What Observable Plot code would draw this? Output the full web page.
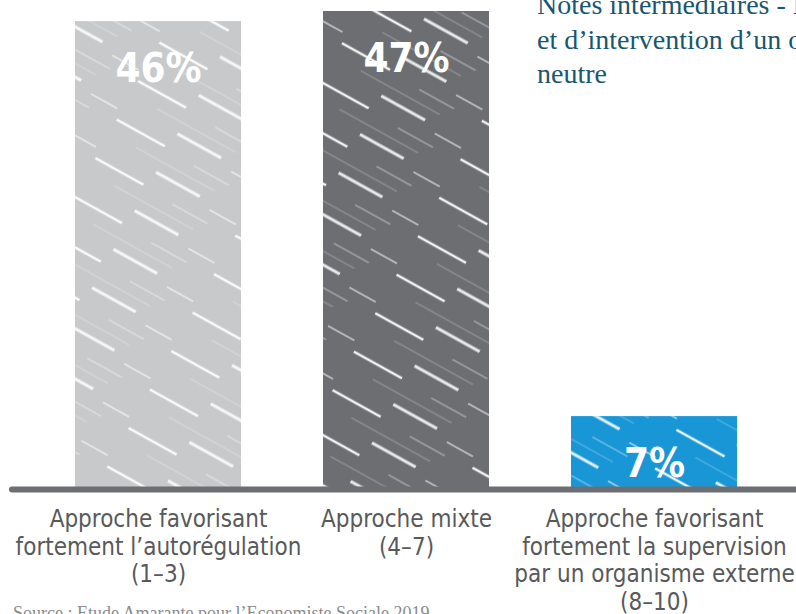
<!DOCTYPE html>
<html>
<head>
<meta charset="utf-8">
<script src="https://cdn.jsdelivr.net/npm/d3@7"></script>
<script src="https://cdn.jsdelivr.net/npm/@observablehq/plot@0.6"></script>
<style>
  html, body { margin: 0; padding: 0; background: #fff; }
  #wrap { position: relative; width: 796px; height: 614px; overflow: hidden; background: #fff; }
  #chart { position: absolute; left: 0; top: 0; }
  #title { position: absolute; left: 537px; top: -12px; white-space: nowrap;
    font-family: "Liberation Serif", "DejaVu Serif", serif; font-size: 28px; line-height: 34.5px; color: #1a5670; }
  #caption { position: absolute; left: 13px; top: 603px; white-space: nowrap;
    font-family: "Liberation Serif", "DejaVu Serif", serif; font-size: 18px; color: #8a8b8d; }
</style>
</head>
<body>
<svg width="0" height="0" style="position:absolute">
  <defs>
    <pattern id="hatch" patternUnits="userSpaceOnUse" width="160" height="44" patternTransform="rotate(29)">
      <line x1="0" y1="4" x2="55" y2="4" stroke="white" stroke-width="2.6" stroke-opacity="0.9"/>
      <line x1="90" y1="7" x2="130" y2="7" stroke="white" stroke-width="1" stroke-opacity="0.55"/>
      <line x1="30" y1="19" x2="120" y2="19" stroke="white" stroke-width="0.8" stroke-opacity="0.4"/>
      <line x1="60" y1="31" x2="110" y2="31" stroke="white" stroke-width="3" stroke-opacity="0.85"/>
      <line x1="125" y1="38" x2="155" y2="38" stroke="white" stroke-width="1.6" stroke-opacity="0.6"/>
    </pattern>
  </defs>
</svg>
<div id="wrap">
  <div id="chart"></div>
  <div id="title">Notes intermédiaires - Niveau d’autorégulation<br>et d’intervention d’un organisme<br>neutre</div>
  <div id="caption">Source : Etude Amarante pour l’Economiste Sociale 2019</div>
</div>
<script>
const categories = ["autoregulation", "mixte", "supervision"];
const labels = [
  "Approche favorisant\nfortement l’autorégulation\n(1–3)",
  "Approche mixte\n(4–7)",
  "Approche favorisant\nfortement la supervision\npar un organisme externe\n(8–10)"
];
const values = [46, 47, 7];
const valueLabels = ["46%", "47%", "7%"];
const colors = ["#c8c9cb", "#6d6e71", "#1996d6"];

const data = categories.map((c, i) => ({cat: c, label: labels[i], value: values[i], pct: valueLabels[i], color: colors[i]}));

const hand = "'Liberation Sans Narrow', 'DejaVu Sans Condensed', 'Roboto Condensed', sans-serif";

const chart = Plot.plot({
  width: 796,
  height: 614,
  marginTop: 11,
  marginBottom: 127,
  marginLeft: 74.5,
  marginRight: 58.5,
  style: {background: "transparent"},
  x: {domain: categories, paddingInner: 0.332, paddingOuter: 0, axis: null},
  y: {domain: [0, 47], axis: null},
  marks: [
    Plot.barY(data, {x: "cat", y: "value", fill: "color"}),
    Plot.barY(data, {x: "cat", y: "value", fill: "url(#hatch)"}),
    Plot.ruleY([0], {stroke: "#6d6e71", strokeWidth: 6, dy: 2, insetLeft: -62.5, insetRight: -58.5, strokeLinecap: "round"}),
    Plot.text(data, {x: "cat", y: "value", text: "pct", dy: 48, fill: "white", fontSize: 40, fontFamily: hand, fontWeight: "bold"}),
    Plot.text(data, {x: "cat", y: 0, text: "label", lineAnchor: "top", dy: 20, fontSize: 24, lineHeight: 1.15, fill: "#58595b", fontFamily: hand})
  ]
});
chart.style.color = "#fff";
document.getElementById("chart").appendChild(chart);
</script>
</body>
</html>
